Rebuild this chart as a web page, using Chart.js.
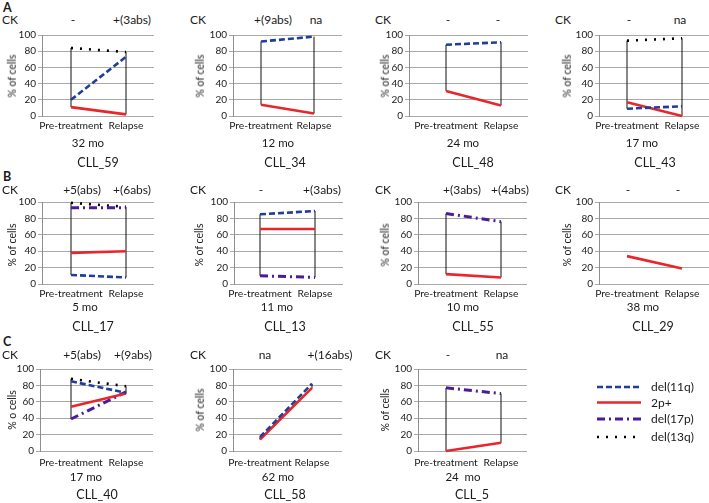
<!DOCTYPE html>
<html><head><meta charset="utf-8">
<script src="https://cdn.jsdelivr.net/npm/chart.js@4"></script>
<style>
body{margin:0;width:709px;height:503px;position:relative;background:#fff;font-family:Lato,'Open Sans',sans-serif;color:#1a1a1a;overflow:hidden}
.t{position:absolute;transform:translate(-50%,-50%);white-space:nowrap;font-size:12px;line-height:1}
.l{position:absolute;transform:translate(0,-50%);white-space:nowrap;font-size:12px;line-height:1}
.yt{position:absolute;transform:translate(-50%,-50%) rotate(-90deg);white-space:nowrap;font-size:10.5px;line-height:1}
.mo{font-size:11.5px}
.big{font-size:12.5px}
.letter{font-weight:bold;font-size:12.5px}
canvas{position:absolute}
</style></head><body>
<script>
// ---- data ----
const categories = ['Pre-treatment', 'Relapse'];
const patients = ['CLL_59','CLL_34','CLL_48','CLL_43','CLL_17','CLL_13','CLL_55','CLL_29','CLL_40','CLL_58','CLL_5'];
const intervals = ['32 mo','12 mo','24 mo','17 mo','5 mo','11 mo','10 mo','38 mo','17 mo','62 mo','24  mo'];
const ckPre = ['-','+(9abs)','-','-','+5(abs)','-','+(3abs)','-','+5(abs)','na','-'];
const ckRelapse = ['+(3abs)','na','-','na','+(6abs)','+(3abs)','+(4abs)','-','+(9abs)','+(16abs)','na'];
const yTitles = ['% of cells','% of cells','% of cells','% of cells','% of cells','% of cells','% of cells','% of cells','% o cells','% of cells','% of cells'];
const del11q = [[20,73],[92,98],[88,91],[9,12],[11,8],[85,89],null,null,[85,71],[17,82],null];
const p2plus = [[11,2],[14,3],[31,13],[17,0],[38,40],[67,67],[12,8],[34,19],[54,70],[14,77],[0,10]];
const del17p = [null,null,null,null,[93,93],[10,8],[86,76],null,[39,72],null,[77,70]];
const del13q = [[84,79],null,null,[93,96],[99,94],null,null,null,[88,79],null,null];
const yTicks = [0,20,40,60,80,100];
const seriesNames = ['del(11q)','2p+','del(17p)','del(13q)'];
const rowLetters = ['A','B','C'];

// ---- styles / layout ----
const seriesStyle = [
  {data: del11q, color:'#1f3d9c', width:2.6, dash:[6,3]},
  {data: p2plus, color:'#e8262b', width:2.6, dash:[]},
  {data: del17p, color:'#4b1b9b', width:3, dash:[8,4,2,4]},
  {data: del13q, color:'#000000', width:2.6, dash:[2,7]}
];
const rows = [
  {t:35, b:116, letterY:8, ckY:20, moY:143, idY:163, ytY:76, xpad:3},
  {t:202, b:284, letterY:177, ckY:190, moY:307, idY:327, ytY:245, xpad:3},
  {t:369, b:451, letterY:342, ckY:355, moY:477, idY:495, ytY:410, xpad:5}
];
const panels = [
  {row:0,l:42,r:154,pre:71,rel:126,ck:[73,132],ckL:2,mo:88,id:98,yt:12},
  {row:0,l:233,r:342,pre:261,rel:314,ck:[273,316],ckL:190,mo:278,id:285,yt:200},
  {row:0,l:409,r:528,pre:446,rel:501,ck:[448,498],ckL:375,mo:463,id:473,yt:385},
  {row:0,l:599,r:709,pre:627,rel:682,ck:[629,680],ckL:555,mo:642,id:655,yt:567},
  {row:1,l:42,r:154,pre:71,rel:126,ck:[82,132],ckL:2,mo:85,id:93,yt:12},
  {row:1,l:234,r:343,pre:260,rel:315,ck:[261,322],ckL:190,mo:277,id:285,yt:199},
  {row:1,l:418,r:527,pre:446,rel:501,ck:[462,510],ckL:375,mo:463,id:473,yt:385},
  {row:1,l:599,r:709,pre:627,rel:682,ck:[628,678],ckL:555,mo:643,id:653,yt:567},
  {row:2,l:40,r:153,pre:71,rel:126,ck:[82,133],ckL:2,mo:86,id:97,yt:12},
  {row:2,l:233,r:342,pre:260,rel:312,ck:[265,330],ckL:190,mo:278,id:285,yt:200},
  {row:2,l:418,r:527,pre:446,rel:501,ck:[448,502],ckL:375,mo:463,id:472,yt:385}
];

Chart.defaults.font.family = 'Lato';
const body = document.body;
function addText(cls, txt, x, y){
  const d = document.createElement('div'); d.className = cls; d.textContent = txt;
  d.style.left = x + 'px'; d.style.top = y + 'px'; body.appendChild(d); return d;
}
rows.forEach((r,i)=> addText('l letter', rowLetters[i], 3, r.letterY));

const YW = 32, XH = 22, PT = 8, PR = 2;
panels.forEach((p, i) => {
  const row = rows[p.row];
  const cv = document.createElement('canvas');
  const w = p.r - p.l + YW + PR, h = row.b - row.t + PT + XH;
  cv.width = w; cv.height = h;
  cv.style.left = (p.l - YW) + 'px'; cv.style.top = (row.t - PT) + 'px';
  cv.style.width = w + 'px'; cv.style.height = h + 'px';
  body.appendChild(cv);

  const datasets = [];
  seriesStyle.forEach(s => {
    const v = s.data[i];
    if (!v) return;
    datasets.push({type:'line', data: v.map((y,k)=>({x:k+1, y})), borderColor:s.color, borderWidth:s.width,
      borderDash:s.dash, pointRadius:0, tension:0, fill:false, clip:false, order:1, borderCapStyle:'butt'});
  });
  // high-low lines at each category, from the min and max of the series present
  [0,1].forEach(k => {
    const vals = seriesStyle.map(s => s.data[i]).filter(Boolean).map(v => v[k]);
    const lo = Math.min(...vals), hi = Math.max(...vals);
    datasets.push({type:'line', data:[{x:k+1,y:lo},{x:k+1,y:hi}], borderColor:'#111', borderWidth:1,
      pointRadius:0, fill:false, clip:false, order:10});
  });
  const span = p.rel - p.pre;
  new Chart(cv, {
    type:'line',
    data:{datasets},
    options:{
      responsive:false, animation:false,
      layout:{padding:{top:PT,right:PR,left:0,bottom:0}, autoPadding:false},
      plugins:{legend:{display:false}, tooltip:{enabled:false}},
      scales:{
        x:{type:'linear', min: 1 - (p.pre - p.l)/span, max: 2 + (p.r - p.rel)/span, offset:false,
          grid:{display:false, drawTicks:false}, border:{display:false},
          afterBuildTicks: s => { s.ticks = categories.map((c,k)=>({value:k+1})); },
          ticks:{autoSkip:false, maxRotation:0, minRotation:0, padding:row.xpad, color:'#1a1a1a', font:{size:10.3},
            callback: v => categories[v-1]},
          afterFit: s => { s.height = XH; }},
        y:{type:'linear', min:0, max:100,
          afterBuildTicks: s => { s.ticks = yTicks.map(v=>({value:v})); },
          grid:{color:'#a9a9a9', tickLength:4, lineWidth:1},
          border:{display:true, color:'#8e8e8e'},
          ticks:{padding:2, color:'#1a1a1a', font:{size:10}},
          afterFit: s => { s.width = YW; }}
      }
    }
  });

  addText('l', 'CK', p.ckL, row.ckY);
  addText('t', ckPre[i], p.ck[0], row.ckY);
  addText('t', ckRelapse[i], p.ck[1], row.ckY);
  addText('t mo', intervals[i], p.mo, row.moY).style.whiteSpace = 'pre';
  addText('t big', patients[i], p.id, row.idY);
  addText('yt', yTitles[i], p.yt, row.ytY);
});

// legend
const lg = document.createElementNS('http://www.w3.org/2000/svg','svg');
lg.setAttribute('width','60'); lg.setAttribute('height','70');
lg.style.position='absolute'; lg.style.left='592px'; lg.style.top='377px';
const legendY = [10, 25.5, 42, 60];
seriesStyle.forEach((s,k)=>{
  const ln = document.createElementNS('http://www.w3.org/2000/svg','line');
  ln.setAttribute('x1', 5); ln.setAttribute('x2', 49);
  ln.setAttribute('y1', legendY[k]); ln.setAttribute('y2', legendY[k]);
  ln.setAttribute('stroke', s.color); ln.setAttribute('stroke-width', s.width);
  if (s.dash.length) ln.setAttribute('stroke-dasharray', s.dash.join(' '));
  lg.appendChild(ln);
  addText('l', seriesNames[k], 651, 377 + legendY[k]);
});
body.appendChild(lg);
</script>
</body></html>
